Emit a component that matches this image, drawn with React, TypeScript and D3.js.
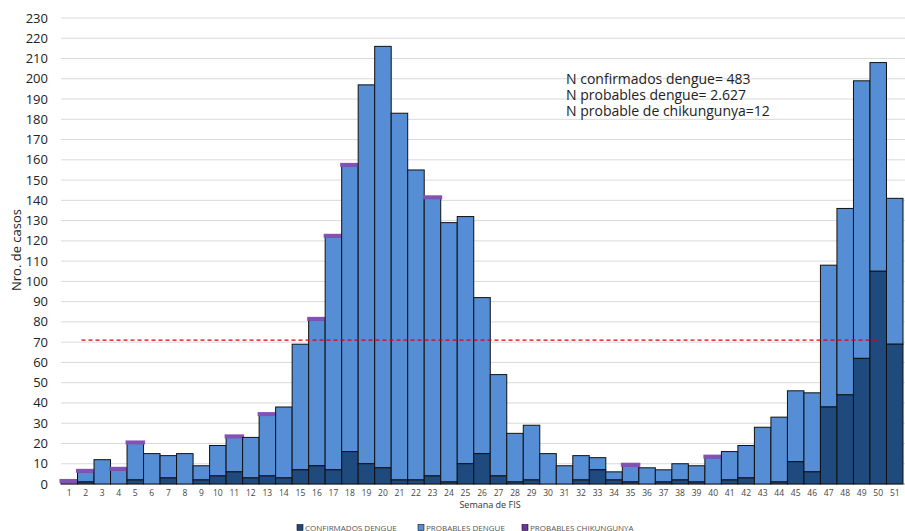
import React from "react";
import * as d3 from "d3";

const weeks = d3.range(1, 52);
const confirmados = [0,1,0,0,2,0,3,0,2,4,6,3,4,3,7,9,7,16,10,8,2,2,4,1,10,15,4,1,2,0,0,2,7,2,1,0,1,2,1,0,2,3,0,1,11,6,38,44,62,105,69];
const totales = [1,6,12,7,20,15,14,15,9,19,23,23,34,38,69,81,122,157,197,216,183,155,141,129,132,92,54,25,29,15,9,14,13,6,9,8,7,10,9,13,16,19,28,33,46,45,108,136,199,208,141];
const probables = totales.map((t, i) => t - confirmados[i]);
const chikungunya = weeks.map((w) => ([1,2,4,5,11,13,16,17,18,23,35,40].includes(w) ? 1 : 0));
const yTicks = d3.range(0, 231, 10);
const umbral = 71;
const notas = ["N confirmados dengue= 483", "N probables dengue= 2.627", "N probable de chikungunya=12"];
const legendItems = [
  { label: "CONFIRMADOS DENGUE", color: "#1f4a7e" },
  { label: "PROBABLES DENGUE", color: "#558ed5" },
  { label: "PROBABLES CHIKUNGUNYA", color: "#7030a0" },
];

export default function App() {
  const W = 905, H = 531;
  const x = d3.scaleBand<number>().domain(weeks).range([61, 903]).padding(0);
  const y = d3.scaleLinear().domain([0, 230]).range([484, 18]);
  const font = "'Open Sans', sans-serif";
  const bw = x.bandwidth();
  const legendX = [297, 418, 522];
  return (
    <svg width={W} height={H} style={{ position: "absolute", left: 0, top: 0, background: "#fff" }} fontFamily={font}>
      {yTicks.map((t) => (
        <g key={t}>
          {t > 0 && <line x1={61} x2={905} y1={y(t)} y2={y(t)} stroke="#d9d9d9" strokeWidth={1} />}
          <text x={48} y={y(t) + 4.5} textAnchor="end" fontSize={13} fill="#222">{t}</text>
        </g>
      ))}
      <line x1={61} x2={905} y1={y(0)} y2={y(0)} stroke="#bfbfbf" strokeWidth={1.5} />
      {weeks.map((w, i) => (
        <g key={w}>
          {probables[i] > 0 && (
            <rect x={x(w)!} width={bw} y={y(totales[i])} height={y(confirmados[i]) - y(totales[i])}
              fill="#558ed5" stroke="#111" strokeWidth={1} />
          )}
          {confirmados[i] > 0 && (
            <rect x={x(w)!} width={bw} y={y(confirmados[i])} height={y(0) - y(confirmados[i])}
              fill="#1f4a7e" stroke="#111" strokeWidth={1} />
          )}
          {chikungunya[i] > 0 && (
            <rect x={x(w)! - 0.5} width={bw + 1} y={y(totales[i] + chikungunya[i])} height={y(totales[i]) - y(totales[i] + chikungunya[i])}
              fill="#7030a0" stroke="#8452b4" strokeWidth={2} />
          )}
          <text x={x(w)! + bw / 2} y={496} textAnchor="middle" fontSize={8.5} fill="#444">{w}</text>
        </g>
      ))}
      <line x1={x(2)! + 4} x2={x(50)! + bw / 2} y1={y(umbral)} y2={y(umbral)} stroke="#e00000" strokeWidth={1.3} strokeDasharray="4,3" />
      <text x={490} y={507.5} textAnchor="middle" fontSize={9} fill="#333">Semana de FIS</text>
      <text transform={`translate(21,250) rotate(-90)`} textAnchor="middle" fontSize={13} fill="#222">Nro. de casos</text>
      {notas.map((n, i) => (
        <text key={n} x={566} y={84 + i * 15.8} fontSize={14} fill="#222">{n}</text>
      ))}
      {legendItems.map((l, i) => (
        <g key={l.label}>
          <rect x={legendX[i]} y={524.5} width={6} height={6} fill={l.color} stroke="#111" strokeWidth={0.6} />
          <text x={legendX[i] + 8} y={530.5} fontSize={8} fill="#555">{l.label}</text>
        </g>
      ))}
    </svg>
  );
}
